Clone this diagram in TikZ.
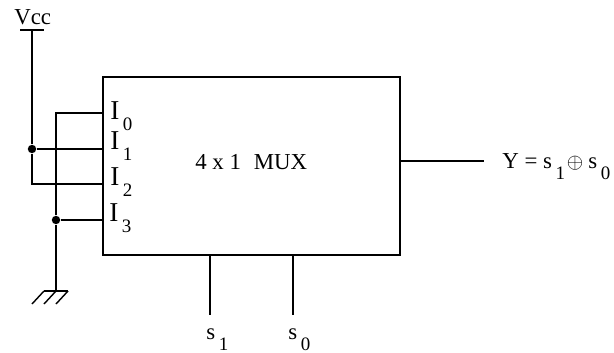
\documentclass[tikz,border=0pt]{standalone}
\usepackage{fontspec}
\setmainfont{Liberation Serif}
\usetikzlibrary{positioning}
\newcommand{\lowsub}[2]{#1\hspace{2pt}\raisebox{-6.4pt}{\fontsize{10.8}{12}\selectfont #2}}
\tikzset{
  wire/.style={draw=black, line width=0.95pt},
  thinwire/.style={draw=black, line width=0.8pt},
  dot/.style={circle, fill=black, inner sep=0pt, minimum size=4.8pt},
  lbl/.style={anchor=base west, inner sep=0pt, font=\fontsize{13}{15}\selectfont},
  pinlbl/.style={anchor=base west, inner sep=0pt, font=\fontsize{15.5}{17}\selectfont},
}
\begin{document}
\begin{tikzpicture}[x=0.02cm,y=-0.02cm]
  \useasboundingbox (0,0) rectangle (614,352);
  % block
  \node[wire, draw, minimum width=5.94cm, minimum height=3.56cm, inner sep=0pt] (mux) at (251.5,166) {};
  \node[lbl] (muxname) at (195,169) {4 x 1\hspace{4pt} MUX};

  % supply and ground
  \coordinate (vccl) at (20,30);
  \coordinate (vccr) at (44,30);
  \coordinate (vcc) at (32,30);
  \node[lbl] (vcclbl) at (14,24) {Vcc};
  \draw[thinwire] (vccl) -- (vccr);
  \coordinate (gnd) at (56,291);
  \coordinate (gndl) at (44,291);
  \coordinate (gndr) at (68,291);
  \draw[thinwire] (gndl) -- (gndr);
  \foreach \n in {gndl,gnd,gndr}
    \draw[thinwire] (\n) -- ++(-12,13);

  % input pins
  \foreach \n/\y in {0/113,1/149,2/184,3/220}
    \coordinate (pin\n) at (103,\y);
  \foreach \n/\yb/\xi in {0/119/110,1/149/110,2/185/110,3/221/109}
    \node[pinlbl] (lblI\n) at (\xi,\yb) {\lowsub{I}{\n}};

  \coordinate (vccI) at (32,184);
  \coordinate (gndI) at (56,113);
  \node[dot] (vccdot) at (32,149) {};
  \node[dot] (gnddot) at (56,220) {};
  \draw[wire] (vcc) -- (vccdot) -- (vccI) -- (pin2);
  \draw[wire] (vccdot) -- (pin1);
  \draw[wire] (gnd) -- (gnddot) -- (gndI) -- (pin0);
  \draw[wire] (gnddot) -- (pin3);

  % output
  \coordinate (outp) at (400,161);
  \coordinate (oute) at (484,161);
  \draw[wire] (outp) -- (oute);
  \node[lbl] (ylbl) at (502,168) {Y = \lowsub{s}{1}\hspace{1pt}$\oplus$\hspace{3pt}\lowsub{s}{0}};

  % select lines
  \foreach \n/\x/\xl in {1/210/206,0/293/288}{
    \coordinate (sel\n) at (\x,255);
    \coordinate (sele\n) at (\x,315);
    \draw[thinwire] (sel\n) -- (sele\n);
    \node[lbl] (slbl\n) at (\xl,339) {\lowsub{s}{\n}};
  }
\end{tikzpicture}
\end{document}
